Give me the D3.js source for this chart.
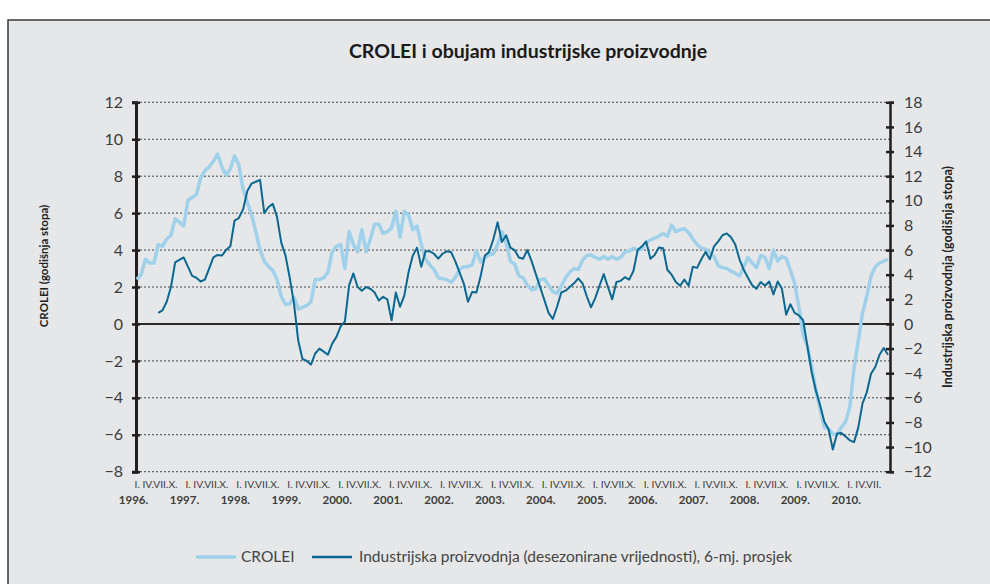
<!DOCTYPE html>
<html><head><meta charset="utf-8">
<script src="https://cdn.jsdelivr.net/npm/d3@7"></script>
<style>body{margin:0;background:#fff} svg{display:block}</style>
</head><body>
<svg id="c" width="990" height="584"></svg>
<script>
// ---------- DATA ----------
const title = "CROLEI i obujam industrijske proizvodnje";
const years = ["1996.","1997.","1998.","1999.","2000.","2001.","2002.","2003.","2004.","2005.","2006.","2007.","2008.","2009.","2010."];
const monthLabelFull = "I. IV.VII.X.";
const monthLabelLast = "I. IV.VII.";
const leftTicks = [12,10,8,6,4,2,0,-2,-4,-6,-8];
const rightTicks = [18,16,14,12,10,8,6,4,2,0,-2,-4,-6,-8,-10,-12];
const leftTitle = "CROLEI (godišnja stopa)";
const rightTitle = "Industrijska proizvodnja (godišnja stopa)";
const seriesNames = ["CROLEI", "Industrijska proizvodnja (desezonirane vrijednosti), 6-mj. prosjek"];

// CROLEI, monthly from Jan 1996 (left axis)
const crolei = [
 2.4,2.7,3.5,3.3,3.3,4.3,4.2,4.6,4.8,5.7,5.5,5.3,
 6.7,6.85,7.0,7.9,8.3,8.5,8.8,9.2,8.5,8.05,8.4,9.1,
 8.6,7.3,6.6,5.9,5.0,4.0,3.4,3.1,2.9,2.4,1.5,1.05,
 1.1,1.45,0.8,0.9,1.0,1.2,2.4,2.4,2.5,2.8,3.9,4.2,
 4.3,3.0,5.0,4.3,3.9,5.1,3.9,4.6,5.4,5.4,4.9,5.0,
 5.2,6.1,4.7,6.1,5.9,5.1,5.3,4.3,3.5,3.2,2.95,2.5,
 2.45,2.4,2.25,2.5,2.95,3.1,3.1,3.2,3.95,3.35,3.6,3.75,
 3.8,4.3,5.0,4.4,3.4,3.25,2.6,2.5,2.1,1.85,1.9,2.4,
 2.45,2.1,1.75,1.65,2.05,2.5,2.8,3.0,2.95,3.45,3.7,3.75,
 3.6,3.5,3.65,3.5,3.65,3.5,3.6,3.9,3.95,4.1,4.0,4.05,
 4.4,4.55,4.65,4.75,4.9,4.75,5.35,5.0,5.1,5.15,4.95,4.6,
 4.3,4.1,4.05,3.85,3.65,3.15,3.05,3.0,2.85,2.75,2.6,3.1,
 3.6,3.3,3.05,3.7,3.6,3.0,4.0,3.4,3.65,3.55,2.9,2.2,
 0.9,-0.6,-1.2,-2.3,-3.6,-4.6,-5.6,-5.7,-5.95,-6.0,-5.6,-5.3,
 -4.5,-2.4,-0.9,0.6,1.5,2.6,3.1,3.3,3.4,3.5
];
// Industrial production, 6-month average, monthly from Jun 1996 (right axis)
const industryStart = 5;
const industrija = [
 0.9,1.1,1.8,3.0,5.0,5.2,5.4,4.65,3.9,3.75,
 3.45,3.6,4.5,5.4,5.6,5.55,6.0,6.3,8.4,8.6,
 9.3,10.8,11.4,11.55,11.7,9.0,9.5,9.75,8.7,6.6,
 5.55,3.75,1.65,-1.35,-2.85,-3.0,-3.3,-2.4,-2.0,-2.25,
 -2.5,-1.6,-1.05,-0.2,0.2,3.15,4.1,3.0,2.7,3.0,
 2.85,2.55,1.9,2.2,2.0,0.3,2.55,1.4,2.3,4.2,
 5.55,6.2,4.65,5.9,5.9,5.7,5.3,5.7,5.9,5.85,
 5.1,4.2,3.3,1.8,2.6,2.55,3.9,5.55,5.85,6.9,
 8.25,6.65,7.2,6.2,6.0,5.4,5.3,6.0,5.1,4.05,
 3.0,1.95,0.9,0.4,1.4,2.55,2.7,3.0,3.3,3.7,
 3.3,2.25,1.35,2.1,3.1,4.05,3.0,2.0,3.4,3.5,
 3.8,3.6,4.3,6.0,6.3,6.7,5.3,5.6,6.2,6.15,
 4.4,4.0,3.4,3.1,3.6,3.1,4.65,4.55,5.25,5.85,
 5.25,6.3,6.7,7.2,7.35,7.05,6.45,5.25,4.4,3.75,
 3.15,2.85,3.4,3.1,3.45,2.4,3.45,2.85,0.75,1.6,
 0.9,0.7,0.3,-1.8,-3.9,-5.4,-6.6,-7.95,-8.55,-10.2,
 -8.9,-8.85,-9.15,-9.45,-9.6,-8.4,-6.45,-5.55,-4.05,-3.5,
 -2.5,-1.95,-2.5
];

// ---------- STYLE ----------
const C = {bg:"#e6e7e9", frame:"#3a3a3a", axis:"#231f20", text:"#3c3c3c",
           light:"#a0d1ea", dark:"#0b6890"};
const font = "Lato, 'Open Sans', sans-serif";

const svg = d3.select("#c");
svg.append("rect").attr("x",0).attr("y",0).attr("width",990).attr("height",584).attr("fill","#fff");
svg.append("rect").attr("x",8).attr("y",20).attr("width",1000).attr("height",600)
   .attr("fill",C.bg).attr("stroke",C.frame).attr("stroke-width",1.5);

const x = d3.scaleLinear().domain([0, crolei.length-1]).range([137, 888]);
const yL = d3.scaleLinear().domain([-8,12]).range([471.7,102.3]);
const yR = d3.scaleLinear().domain([-12,18]).range([471.7,102.3]);
const xL = 136, xR = 890;

svg.append("text").attr("x",528).attr("y",58).attr("text-anchor","middle")
  .attr("font-family",font).attr("font-weight","bold").attr("font-size",19.5).attr("fill","#1a1a1a")
  .text(title);

// gridlines
svg.append("g").selectAll("line").data(leftTicks).join("line")
  .attr("x1",xL).attr("x2",xR).attr("y1",d=>yL(d)).attr("y2",d=>yL(d))
  .attr("stroke",d=>d===0?"#2b2b2b":"#444")
  .attr("stroke-width",d=>d===0?2:1)
  .attr("stroke-dasharray",d=>d===0?null:"2,2");

// left axis
const gL = svg.append("g").attr("transform",`translate(${xL},0)`)
  .call(d3.axisLeft(yL).tickValues(leftTicks).tickFormat(d3.format("d")).tickSize(4).tickPadding(9));
gL.select(".domain").attr("stroke",C.axis).attr("stroke-width",3);
gL.selectAll(".tick line").attr("x1",-4).attr("x2",4).attr("stroke",C.axis).attr("stroke-width",2.5);
gL.selectAll(".tick text").attr("font-family",font).attr("font-size",16).attr("fill",C.text);

// right axis
const gR = svg.append("g").attr("transform",`translate(${xR},0)`)
  .call(d3.axisRight(yR).tickValues(rightTicks).tickFormat(d3.format("d")).tickSize(4).tickPadding(10));
gR.select(".domain").attr("stroke",C.axis).attr("stroke-width",2.5);
gR.selectAll(".tick line").attr("x1",-4).attr("x2",4).attr("stroke",C.axis).attr("stroke-width",2.5);
gR.selectAll(".tick text").attr("font-family",font).attr("font-size",16).attr("fill",C.text);

// x labels
const yearIdx = years.map((d,i)=>i*12);
const gM = svg.append("g").attr("transform","translate(-3,481)")
  .call(d3.axisBottom(x).tickValues(yearIdx).tickSize(0).tickPadding(0)
        .tickFormat((d,i)=> i===years.length-1 ? monthLabelLast : monthLabelFull));
gM.select(".domain").remove();
gM.selectAll(".tick text").attr("text-anchor","start").attr("font-family",font)
  .attr("font-size",10.3).attr("fill",C.text);
const gY = svg.append("g").attr("transform","translate(-4,496)")
  .call(d3.axisBottom(x).tickValues(yearIdx).tickSize(0).tickPadding(0)
        .tickFormat((d,i)=>years[i]));
gY.select(".domain").remove();
gY.selectAll(".tick text").attr("font-family",font).attr("font-weight","bold")
  .attr("font-size",11.5).attr("fill",C.text);

// axis titles
svg.append("text").attr("transform","translate(48,266) rotate(-90)").attr("text-anchor","middle")
  .attr("font-family",font).attr("font-weight","bold").attr("font-size",11.5).attr("fill","#222")
  .text(leftTitle);
svg.append("text").attr("transform","translate(952,277) rotate(-90)").attr("text-anchor","middle")
  .attr("font-family",font).attr("font-weight","bold").attr("font-size",12.5).attr("fill","#222")
  .text(rightTitle);

// lines
svg.append("path").datum(crolei)
  .attr("d", d3.line().x((d,i)=>x(i)).y(d=>yL(d)))
  .attr("fill","none").attr("stroke",C.light).attr("stroke-width",3.5).attr("stroke-linejoin","round");
svg.append("path").datum(industrija)
  .attr("d", d3.line().x((d,i)=>x(i+industryStart)).y(d=>yR(d)))
  .attr("fill","none").attr("stroke",C.dark).attr("stroke-width",2).attr("stroke-linejoin","round");

// legend
const lg = svg.append("g").attr("font-family",font).attr("font-size",15.5).attr("fill","#444");
lg.append("line").attr("x1",196).attr("x2",236).attr("y1",557).attr("y2",557).attr("stroke",C.light).attr("stroke-width",3.5);
lg.append("text").attr("x",241).attr("y",562).text(seriesNames[0]);
lg.append("line").attr("x1",312).attr("x2",352).attr("y1",557).attr("y2",557).attr("stroke",C.dark).attr("stroke-width",2.5);
lg.append("text").attr("x",359).attr("y",562).text(seriesNames[1]);
</script>
</body></html>
